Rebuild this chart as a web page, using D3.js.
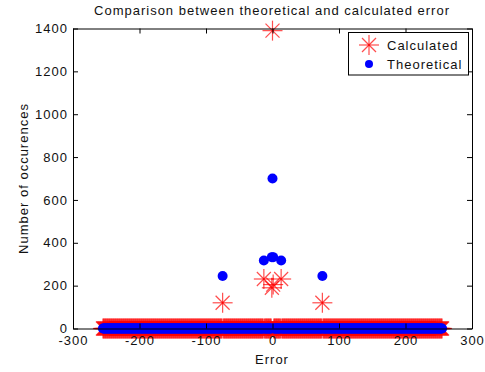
<!DOCTYPE html>
<html>
<head>
<meta charset="utf-8">
<script src="https://cdn.jsdelivr.net/npm/d3@7"></script>
<style>
  body { margin: 0; background: #fff; }
  svg text { font-family: "Liberation Sans", Arial, sans-serif; font-size: 13px; letter-spacing: 1px; fill: #111; }
</style>
</head>
<body>
<script>
// error bins run from -255 to 255; every bin not listed below reads as zero
const binRange = [-255, 255];
const calcErrors = [-75, -13, -1, 0, 1, 13, 75];
const calcCounts = [120, 231, 190, 1390, 205, 231, 120];
const theoErrors = [-75, -13, -1, 0, 1, 13, 75];
const theoCounts = [245, 317, 333, 700, 333, 317, 245];
const xTicks = [-300, -200, -100, 0, 100, 200, 300];
const yTicks = [0, 200, 400, 600, 800, 1000, 1200, 1400];

const width = 485, height = 372;
const box = { left: 73, right: 472, top: 28.5, bottom: 328.5 };

function series(errs, counts) {
    const lookup = new Map(errs.map((e, i) => [e, counts[i]]));
    return d3.range(binRange[0], binRange[1] + 1)
        .map(e => ({ e: e, n: lookup.has(e) ? lookup.get(e) : 0 }));
}
const calcData = series(calcErrors, calcCounts);
const theoData = series(theoErrors, theoCounts);

const x = d3.scaleLinear().domain([-300, 300]).range([box.left, box.right]);
const y = d3.scaleLinear().domain([0, 1400]).range([box.bottom, box.top]);

const svg = d3.select("body").append("svg")
    .attr("width", width)
    .attr("height", height);

// asterisk marker: plus and cross arms drawn as separate lines
const arms = [[-10, 0, 10, 0], [0, -10, 0, 10], [-7, -7, 7, 7], [-7, 7, 7, -7]];
function asterisk(g) {
    g.selectAll("line")
        .data(arms)
        .enter()
        .append("line")
        .attr("x1", d => d[0]).attr("y1", d => d[1])
        .attr("x2", d => d[2]).attr("y2", d => d[3])
        .attr("stroke", "#ff0000")
        .attr("stroke-opacity", 0.7)
        .attr("stroke-width", 1.2);
}

// calculated series
svg.append("g")
    .selectAll("g")
    .data(calcData)
    .enter()
    .append("g")
    .attr("transform", d => `translate(${x(d.e)},${y(d.n)})`)
    .call(asterisk);

// theoretical series
svg.append("g")
    .selectAll("circle")
    .data(theoData)
    .enter()
    .append("circle")
    .attr("cx", d => x(d.e))
    .attr("cy", d => y(d.n))
    .attr("r", 5)
    .attr("fill", "#0000ff");

// axes, drawn on top of the markers (plain hyphen minus, like matlab)
const fmt = d => String(d);
const xAxis = svg.append("g")
    .attr("transform", `translate(0,${box.bottom})`)
    .call(d3.axisBottom(x).tickValues(xTicks).tickFormat(fmt).tickSize(-5).tickPadding(7).tickSizeOuter(0));
svg.append("g")
    .attr("transform", `translate(0,${box.top})`)
    .call(d3.axisTop(x).tickValues(xTicks).tickSize(-5).tickFormat("").tickSizeOuter(0));
svg.append("g")
    .attr("transform", `translate(${box.left},0)`)
    .call(d3.axisLeft(y).tickValues(yTicks).tickFormat(fmt).tickSize(-5).tickPadding(5).tickSizeOuter(0));
svg.append("g")
    .attr("transform", `translate(${box.right},0)`)
    .call(d3.axisRight(y).tickValues(yTicks).tickSize(-5).tickFormat("").tickSizeOuter(0));

svg.selectAll(".domain").attr("stroke", "#000");
svg.selectAll(".tick line").attr("stroke", "#000");
svg.selectAll(".tick text").attr("font-family", null).attr("font-size", null).attr("fill", null);
xAxis.selectAll(".tick text").attr("dy", "0.72em");

// titles
svg.append("text")
    .attr("x", 272)
    .attr("y", 15)
    .attr("text-anchor", "middle")
    .text("Comparison between theoretical and calculated error");
svg.append("text")
    .attr("x", 272)
    .attr("y", 364)
    .attr("text-anchor", "middle")
    .text("Error");
svg.append("text")
    .attr("transform", `translate(28,${(box.top + box.bottom) / 2}) rotate(-90)`)
    .attr("text-anchor", "middle")
    .text("Number of occurences");

// legend
const legend = svg.append("g");
legend.append("rect")
    .attr("x", 348.5)
    .attr("y", 32.5)
    .attr("width", 120)
    .attr("height", 42.5)
    .attr("fill", "#fff")
    .attr("stroke", "#000");
legend.append("g")
    .attr("transform", "translate(369,45)")
    .call(asterisk);
legend.append("circle")
    .attr("cx", 369)
    .attr("cy", 64)
    .attr("r", 4)
    .attr("fill", "#0000ff");
legend.append("text").attr("x", 387).attr("y", 49.5).text("Calculated");
legend.append("text").attr("x", 387).attr("y", 68.5).text("Theoretical");
</script>
</body>
</html>
